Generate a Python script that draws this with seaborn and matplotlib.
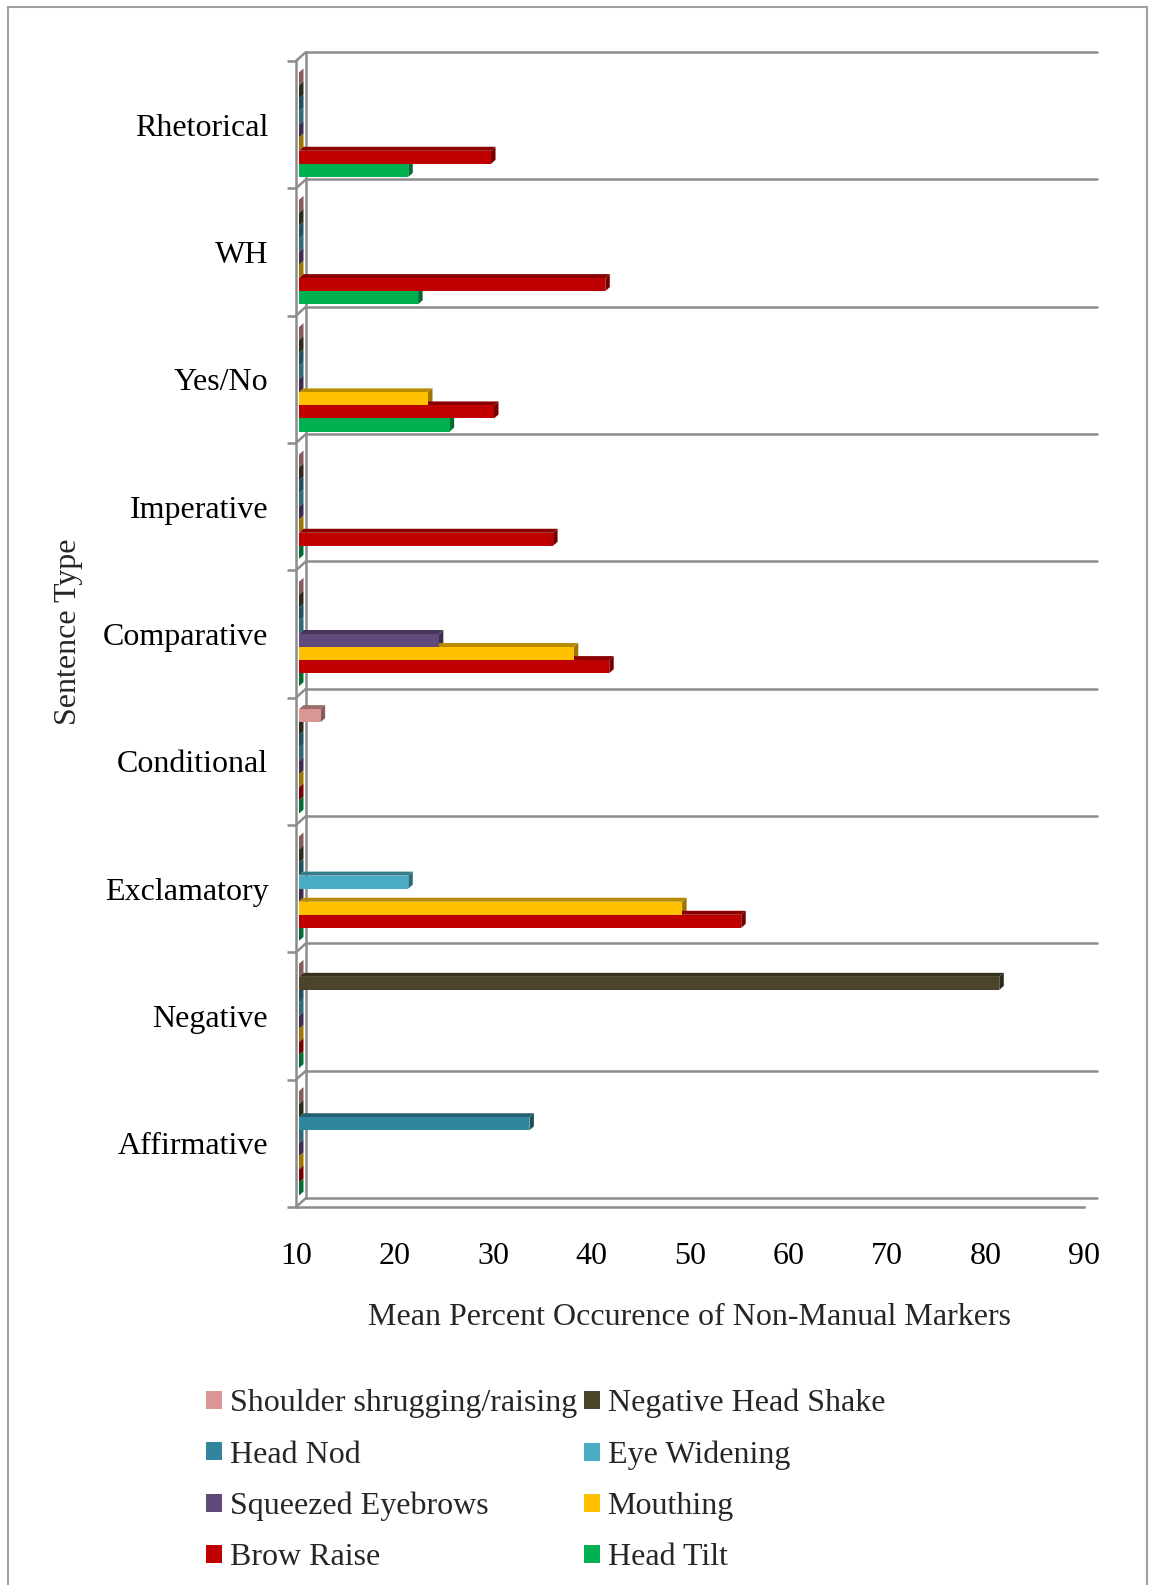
import numpy as np
import pandas as pd
import seaborn as sns
import matplotlib.pyplot as plt
from matplotlib.patches import Polygon, Rectangle, Patch

# Categories (top to bottom) and series
sentence_types = ['Rhetorical', 'WH', 'Yes/No', 'Imperative', 'Comparative',
                  'Conditional', 'Exclamatory', 'Negative', 'Affirmative']
markers = ['Shoulder shrugging/raising', 'Negative Head Shake', 'Head Nod',
           'Eye Widening', 'Squeezed Eyebrows', 'Mouthing', 'Brow Raise', 'Head Tilt']
colors = ['#D99694', '#4A452A', '#31859C', '#4BACC6',
          '#604A7B', '#FFC000', '#C00000', '#00B050']

shoulder = [0, 0, 0, 0, 0, 12.5, 0, 0, 0]
head_shake = [0, 0, 0, 0, 0, 0, 0, 81.4, 0]
head_nod = [0, 0, 0, 0, 0, 0, 0, 0, 33.7]
eye_widening = [0, 0, 0, 0, 0, 0, 21.4, 0, 0]
squeezed = [0, 0, 0, 0, 24.5, 0, 0, 0, 0]
mouthing = [0, 0, 23.4, 0, 38.2, 0, 49.2, 0, 0]
brow_raise = [29.8, 41.4, 30.1, 36.1, 41.8, 0, 55.2, 0, 0]
head_tilt = [21.4, 22.4, 25.6, 0, 0, 0, 0, 0, 0]

series = [shoulder, head_shake, head_nod, eye_widening,
          squeezed, mouthing, brow_raise, head_tilt]
rows = []
for name, vals in zip(markers, series):
    for st, v in zip(sentence_types, vals):
        rows.append({'Sentence Type': st, 'Marker': name, 'Value': v})
df = pd.DataFrame(rows)

sns.set_style('white')
plt.rcParams['font.family'] = ['Liberation Serif', 'DejaVu Serif']
grey = '#8C8C8C'
fs = 23

fig = plt.figure(figsize=(11.49, 15.85), dpi=100)
ax = fig.add_axes([296 / 1149, 1 - 1207 / 1585, 788 / 1149, 1146 / 1585])

sns.barplot(data=df, y='Sentence Type', x='Value', hue='Marker',
            order=sentence_types, hue_order=markers, palette=colors,
            orient='h', width=0.82, saturation=1, linewidth=0,
            errorbar=None, legend=False, ax=ax, zorder=2)

ax.set_xlim(10, 90)
ax.set_ylim(8.5, -0.5)

# pixel -> data unit conversions for the 3D look
bb = ax.get_position()
w_px = bb.width * fig.get_figwidth() * fig.dpi
h_px = bb.height * fig.get_figheight() * fig.dpi
ux = 80 / w_px
uy = 9 / h_px
wall_dx, wall_dy = 10 * ux, 9 * uy
bar_dx, bar_dy = 4.5 * ux, 4 * uy
base = 10 + 3 * ux   # bars sit a little behind the front axis

# back wall gridlines
bounds = np.arange(-0.5, 9.0, 1.0)
for b in bounds:
    ax.plot([10 + wall_dx, 90 + wall_dx + 3 * ux], [b - wall_dy] * 2,
            color=grey, lw=1.8, clip_on=False, zorder=0.3)
    ax.plot([10, 10 + wall_dx], [b, b - wall_dy],
            color=grey, lw=1.8, clip_on=False, zorder=0.3)
ax.plot([10 + wall_dx] * 2, [-0.5 - wall_dy, 8.5 - wall_dy],
        color=grey, lw=1.8, clip_on=False, zorder=0.3)

# top and side faces of the bars
bars = list(ax.patches)
for bar in bars:
    x1 = max(bar.get_x() + bar.get_width(), base)
    x0 = base
    bar.set_x(x0)
    bar.set_width(x1 - x0)
    y0 = bar.get_y()
    y1 = y0 + bar.get_height()
    dark = np.array(bar.get_facecolor()[:3]) * 0.72
    top = Polygon([(x0, y0), (x1, y0), (x1 + bar_dx, y0 - bar_dy), (x0 + bar_dx, y0 - bar_dy)],
                  closed=True, facecolor=dark, edgecolor='none', zorder=1)
    side = Polygon([(x1, y0), (x1, y1), (x1 + bar_dx, y1 - bar_dy), (x1 + bar_dx, y0 - bar_dy)],
                   closed=True, facecolor=dark * 0.85, edgecolor='none', zorder=1)
    ax.add_patch(top)
    ax.add_patch(side)

# front axes
for s in ['top', 'right']:
    ax.spines[s].set_visible(False)
for s in ['left', 'bottom']:
    ax.spines[s].set_color(grey)
    ax.spines[s].set_linewidth(1.8)

ax.set_xticks(range(10, 91, 10))
ax.tick_params(axis='x', which='major', direction='out', length=6.5, width=1.8,
               color=grey, labelsize=fs, pad=19, labelcolor='black')
ax.set_yticks(range(len(sentence_types)))
ax.set_yticks(bounds, minor=True)
ax.tick_params(axis='y', which='major', length=0, labelsize=fs, pad=20, labelcolor='black')
ax.tick_params(axis='y', which='minor', direction='out', length=6.5, width=1.8,
               color=grey, left=True)

ax.set_xlabel('Mean Percent Occurence of Non-Manual Markers', fontsize=fs)
ax.set_ylabel('Sentence Type', fontsize=fs)
ax.xaxis.set_label_coords(0.5, -0.0963)
ax.xaxis.label.set_verticalalignment('center')
ax.yaxis.set_label_coords(-0.2890, 0.5017)
ax.yaxis.label.set_verticalalignment('center')

# legend, filled row by row
handles = [Patch(facecolor=c, edgecolor='none') for c in colors]
order = [0, 2, 4, 6, 1, 3, 5, 7]
fig.legend([handles[i] for i in order], [markers[i] for i in order],
           ncol=2, loc='upper left', bbox_to_anchor=(206 / 1149, 1 - 1389 / 1585),
           frameon=False, fontsize=fs, handlelength=0.5, handleheight=0.5,
           handletextpad=0.25, labelspacing=0.69, columnspacing=0.2,
           borderpad=0, borderaxespad=0)

# outer chart border
fig.add_artist(Rectangle((8 / 1149, -0.01), 1139 / 1149, 1.01 - 7 / 1585,
                         transform=fig.transFigure, fill=False,
                         edgecolor='#A0A0A0', lw=1.5))

fig.savefig('out.png', dpi=100)
